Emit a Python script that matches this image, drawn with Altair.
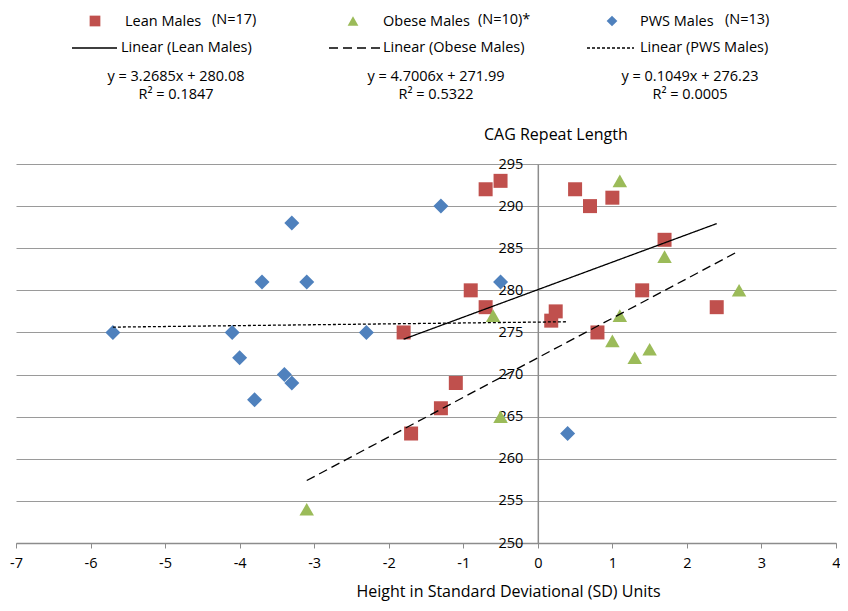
import altair as alt
import pandas as pd

# ---------------- data ----------------
series = ["Lean Males", "Obese Males", "PWS Males"]
counts = ["(N=17)", "(N=10)*", "(N=13)"]

lean_x = [-1.8, -0.7, -0.5, -0.9, -0.7, -1.1, -1.3, -1.7, 0.18, 0.24, 0.5, 0.7, 1.0, 0.8, 1.7, 1.4, 2.4]
lean_y = [275, 292, 293, 280, 278, 269, 266, 263, 276.4, 277.5, 292, 290, 291, 275, 286, 280, 278]

obese_x = [-3.1, -0.6, -0.5, 1.1, 1.7, 2.7, 1.1, 1.0, 1.3, 1.5]
obese_y = [254, 277, 265, 293, 284, 280, 277, 274, 272, 273]

pws_x = [-5.7, -4.1, -2.3, -4.0, -3.8, -3.4, -3.3, -3.3, -3.7, -3.1, -1.3, -0.5, 0.4]
pws_y = [275, 275, 275, 272, 267, 270, 269, 288, 281, 281, 290, 281, 263]

slopes = [3.2685, 4.7006, 0.1049]
intercepts = [280.08, 271.99, 276.23]
r_squared = [0.1847, 0.5322, 0.0005]

x_ticks = list(range(-7, 5))
y_ticks = list(range(250, 300, 5))

# ---------------- styles / layout ----------------
colors = ["#C0504D", "#9BBB59", "#4F81BD"]
shapes = ["square", "triangle-up", "diamond"]
sizes = [196, 225, 196]
dashes = [[1, 0], [9, 5], [3, 2]]
FONT = "Open Sans"
FS = 14.5
TFS = 15.5
W, H = 820, 379
X_DOMAIN = [-7, 4]
Y_DOMAIN = [250, 295]

# legend layout (pixels relative to plot origin)
sym_x = [79, 337, 596]
lab_x = [109, 367, 624]
cnt_x = [196, 462, 709]
line_x = [(56, 101), (313, 364), (571, 618)]
lin_lab_x = [105, 367, 624]
eq_x = [160, 420, 674]
row1_y, row2_y, eq1_y, eq2_y = -143, -116, -87, -69

# ---------------- tables ----------------
xs = [lean_x, obese_x, pws_x]
ys = [lean_y, obese_y, pws_y]
rows = []
for s, xv, yv in zip(series, xs, ys):
    for a, b in zip(xv, yv):
        rows.append({"series": s, "x": a, "y": b})
points = pd.DataFrame(rows)

trows = []
for s, xv, m, b in zip(series, xs, slopes, intercepts):
    for a in (min(xv), max(xv)):
        trows.append({"series": s, "x": a, "y": m * a + b})
trend = pd.DataFrame(trows)

x_scale = alt.Scale(domain=X_DOMAIN, nice=False, zero=False)
y_scale = alt.Scale(domain=Y_DOMAIN, nice=False, zero=False)

x_axis = alt.Axis(
    values=x_ticks, grid=False, domainColor="#8c8c8c", domainWidth=1.5,
    tickColor="#8c8c8c", tickSize=5, tickWidth=1, labelPadding=8,
    labelFlush=False, labelExpr="'' + datum.value",
    title="Height in Standard Deviational (SD) Units",
    titleX=492, titleY=48, titleAlign="center", titleBaseline="middle",
    titleAnchor="start", titleFontSize=16,
)
y_axis = alt.Axis(
    values=y_ticks, grid=True, gridColor="#9a9a9a", gridWidth=1.2,
    domainColor="#8c8c8c", domainWidth=1.5, ticks=False, tickSize=0,
    labelPadding=15, labelFlush=False, offset=-W * 7 / 11, title=None,
)

pts = alt.Chart(points).mark_point(filled=True, opacity=1).encode(
    x=alt.X("x:Q", scale=x_scale, axis=x_axis),
    y=alt.Y("y:Q", scale=y_scale, axis=y_axis),
    shape=alt.Shape("series:N", scale=alt.Scale(domain=series, range=shapes), legend=None),
    color=alt.Color("series:N", scale=alt.Scale(domain=series, range=colors), legend=None),
    size=alt.Size("series:N", scale=alt.Scale(domain=series, range=sizes), legend=None),
)

lines = alt.Chart(trend).mark_line(color="black", strokeWidth=1.3).encode(
    x="x:Q",
    y="y:Q",
    detail="series:N",
    strokeDash=alt.StrokeDash("series:N", scale=alt.Scale(domain=series, range=dashes), legend=None),
)

one = pd.DataFrame({"k": [0]})
layers = [pts, lines]

layers.append(
    alt.Chart(one).mark_text(text="CAG Repeat Length", align="left", baseline="middle",
                             font=FONT, fontSize=16, color="black")
    .encode(x=alt.value(468), y=alt.value(-29))
)

for i, s in enumerate(series):
    layers.append(
        alt.Chart(one).mark_point(filled=True, opacity=1, shape=shapes[i], size=115, color=colors[i])
        .encode(x=alt.value(sym_x[i]), y=alt.value(row1_y))
    )
    layers.append(
        alt.Chart(one).mark_text(text=s, align="left", baseline="middle", font=FONT,
                                 fontSize=FS, color="black")
        .encode(x=alt.value(lab_x[i]), y=alt.value(row1_y + 1))
    )
    layers.append(
        alt.Chart(one).mark_text(text=counts[i], align="left", baseline="middle", font=FONT,
                                 fontSize=FS, color="black")
        .encode(x=alt.value(cnt_x[i]), y=alt.value(row1_y - 1))
    )
    layers.append(
        alt.Chart(one).mark_rule(color="black", strokeWidth=1.3, strokeDash=dashes[i])
        .encode(x=alt.value(line_x[i][0]), x2=alt.value(line_x[i][1]), y=alt.value(row2_y))
    )
    layers.append(
        alt.Chart(one).mark_text(text=f"Linear ({s})", align="left", baseline="middle",
                                 font=FONT, fontSize=FS, color="black")
        .encode(x=alt.value(lin_lab_x[i]), y=alt.value(row2_y))
    )
    layers.append(
        alt.Chart(one).mark_text(text=f"y = {slopes[i]:.4f}x + {intercepts[i]:.2f}", align="center",
                                 baseline="middle", font=FONT, fontSize=FS, color="black")
        .encode(x=alt.value(eq_x[i]), y=alt.value(eq1_y))
    )
    layers.append(
        alt.Chart(one).mark_text(text=f"R\u00b2 = {r_squared[i]:.4f}", align="center",
                                 baseline="middle", font=FONT, fontSize=FS, color="black")
        .encode(x=alt.value(eq_x[i]), y=alt.value(eq2_y))
    )

chart = alt.layer(*layers).properties(
    width=W, height=H,
    autosize=alt.AutoSizeParams(type="none"),
    padding={"left": 8, "top": 156, "right": 4, "bottom": 60},
    background="white",
).configure_view(stroke=None).configure_axis(
    labelFont=FONT, titleFont=FONT, labelFontSize=FS, titleFontSize=TFS,
    titleFontWeight="normal", labelColor="black", titleColor="black",
)

chart.save("out.html", embed_options={"renderer": "svg", "actions": False})
